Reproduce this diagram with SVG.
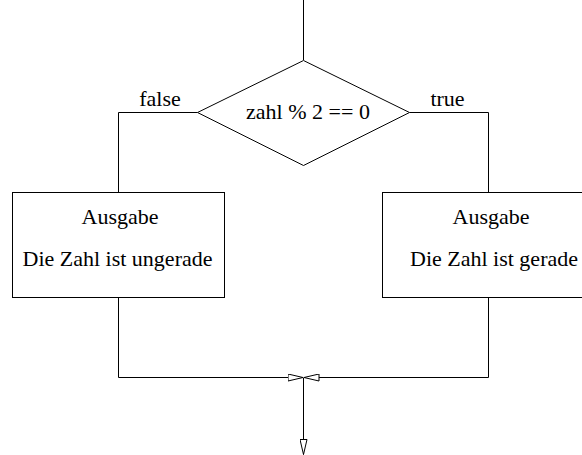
<svg xmlns="http://www.w3.org/2000/svg" width="582" height="455" viewBox="0 0 582 455">
<style>
.s{fill:none;stroke:#000;stroke-width:1}
.n{fill:#fff;stroke:#000;stroke-width:1}
.t{font-family:"Liberation Serif","Times New Roman",serif;font-size:22px;fill:#000;text-anchor:middle}
</style>
<defs>
<marker id="ah" markerWidth="16" markerHeight="8" refX="15.5" refY="4" orient="auto" markerUnits="userSpaceOnUse">
<path d="M0.5,0.5 L15.5,4 L0.5,7.5 Z" fill="#fff" stroke="#000" stroke-width="1"/>
</marker>
</defs>
<g id="connectors">
<path class="s" d="M303.5,0 V60"/>
<path class="s" d="M197.5,112.5 H118.5 V192"/>
<path class="s" d="M409.5,112.5 H488.5 V192"/>
<path class="s" d="M118.5,297.5 V377.5 H303" marker-end="url(#ah)"/>
<path class="s" d="M488.5,297.5 V377.5 H304" marker-end="url(#ah)"/>
<path class="s" d="M303.5,377.5 V454.5" marker-end="url(#ah)"/>
<text class="t" x="160" y="106">false</text>
<text class="t" x="447.5" y="106">true</text>
</g>
<g id="decision">
<polygon class="n" points="303.5,60.5 409.5,112.5 303.5,165.5 197.5,112.5"/>
<text class="t" x="308" y="118.5">zahl % 2 == 0</text>
</g>
<g id="out-false">
<rect class="n" x="12.5" y="192.5" width="212" height="105"/>
<text class="t" x="120" y="224">Ausgabe</text>
<text class="t" x="117.5" y="266">Die Zahl ist ungerade</text>
</g>
<g id="out-true">
<rect class="n" x="382.5" y="192.5" width="212" height="105"/>
<text class="t" x="491" y="224">Ausgabe</text>
<text class="t" x="494" y="266">Die Zahl ist gerade</text>
</g>
</svg>
